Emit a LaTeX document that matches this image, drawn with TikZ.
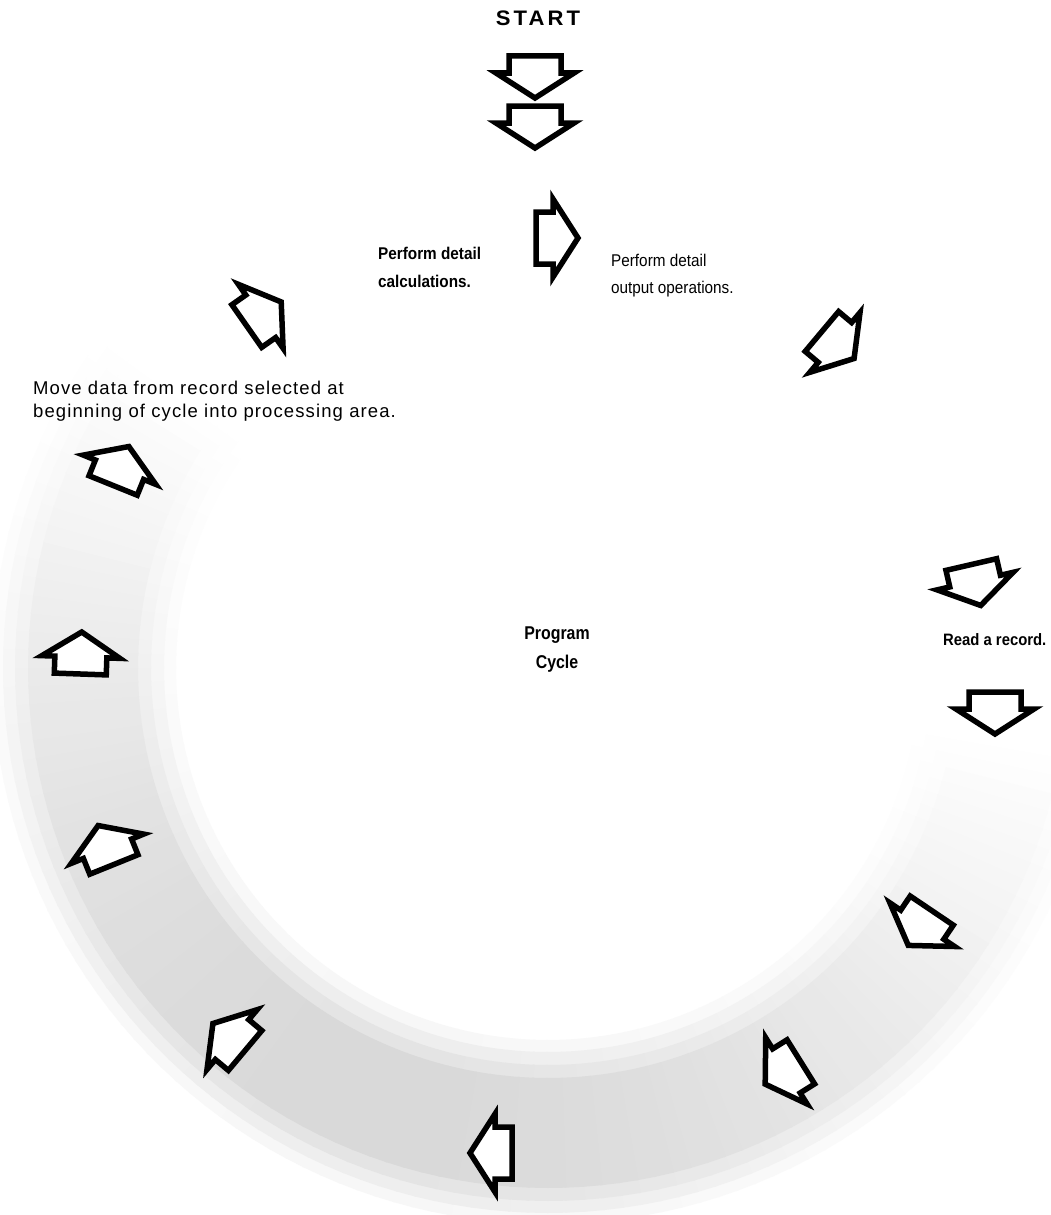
\documentclass[tikz,border=0pt]{standalone}
\usepackage{fontspec}
\setmainfont{Liberation Sans}
\newcommand{\blockarrow}[4]{%
  \begin{scope}[shift={(#2,#3)}, rotate=-#4]
    \coordinate (#1) at (0,0);
    \draw[arr] (-21,-26) -- (-4,-26) -- (-4,-39) -- (21,0) -- (-4,39) -- (-4,26) -- (-21,26) -- cycle;
  \end{scope}}
\begin{document}
\begin{tikzpicture}[x=1pt,y=-1pt,
  arr/.style={draw=black, line width=5.5pt, line join=miter, miter limit=12, fill=white},
  lbl/.style={inner sep=0pt, align=left, anchor=west},
  big/.style={font={\fontsize{18.5}{23}\selectfont\addfontfeatures{LetterSpace=6}}},
  small/.style={font={\fontsize{17}{27}\selectfont}},
  smallb/.style={font={\fontsize{17}{28}\selectfont\bfseries}},
]
\useasboundingbox (0,0) rectangle (1050,1215);
\fill[white] (0,0) rectangle (1050,1215);

% shaded ring
\def\cx{548}\def\cy{668}
\foreach \ri/\ro/\k in {372/556/0.2, 384/545/0.45, 397/533/0.7, 410/520/1.0}{
  \foreach \a in {8,10,...,216}{
    \pgfmathsetmacro\gv{\k*15*max(0,sin(0.86538*(\a-8)))}
    \pgfmathsetmacro\bv{\a+2.2}
    \fill[black!\gv] ({\cx+\ri*cos(\a)},{\cy+\ri*sin(\a)}) -- ({\cx+\ro*cos(\a)},{\cy+\ro*sin(\a)})
      -- ({\cx+\ro*cos(\bv)},{\cy+\ro*sin(\bv)}) -- ({\cx+\ri*cos(\bv)},{\cy+\ri*sin(\bv)}) -- cycle;
  }
}

% arrows
\blockarrow{a1}{535}{77}{90}
\blockarrow{a2}{535}{127}{90}
\blockarrow{a3}{557}{238}{0}
\blockarrow{a4}{838}{345}{40}
\blockarrow{a5}{976}{585}{77}
\blockarrow{a6}{995}{713}{90}
\blockarrow{a7}{920}{928}{124}
\blockarrow{a8}{783}{1073}{148}
\blockarrow{a9}{491}{1153}{180}
\blockarrow{a10}{229}{1037}{220}
\blockarrow{a11}{106}{845}{248}
\blockarrow{a12}{81}{653}{272}
\blockarrow{a13}{121}{466}{292}
\blockarrow{a14}{264}{314}{325}

% labels
\node[inner sep=0pt, xscale=1.05, font={\fontsize{21}{23}\selectfont\bfseries\addfontfeatures{LetterSpace=14}}] (start) at (538,18) {START};
\node[lbl, smallb, xscale=0.9] (calc) at (378,267) {Perform detail\\calculations.};
\node[lbl, small, xscale=0.9] (out) at (611,275.5) {Perform detail\\output operations.};
\node[lbl, big] (move) at (33,401.5) {Move data from record selected at\\beginning of cycle into processing area.};
\node[inner sep=0pt, align=center, xscale=0.86, font={\fontsize{18.5}{29}\selectfont\bfseries}] (cycle) at (557,650) {Program\\Cycle};
\node[lbl, xscale=0.9, font={\fontsize{16.5}{18}\selectfont\bfseries}] (read) at (943,640) {Read a record.};
\end{tikzpicture}
\end{document}
